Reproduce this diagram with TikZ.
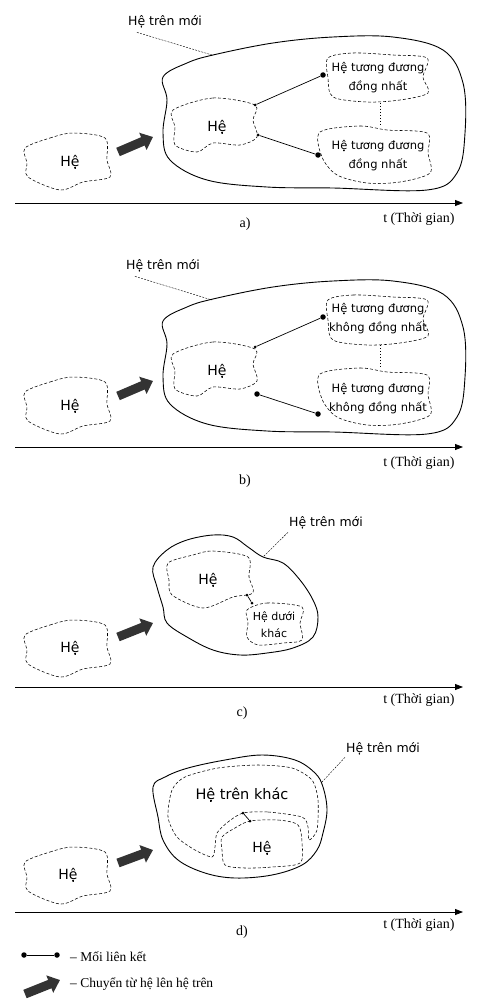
\documentclass[tikz,border=0pt]{standalone}
\usepackage{fontspec}
\setmainfont{Liberation Serif}
\newfontfamily\blobfont{DejaVu Sans}
\usetikzlibrary{arrows.meta}

\begin{document}
\begin{tikzpicture}[
		x = 1pt, y = -1pt, % pixel grid, y downwards
		blob/.style = {draw, dash pattern=on 3pt off 2pt, line width=0.55pt}, % dashed system border
		outer/.style = {draw, line width=0.9pt}, % new super system
		lbl/.style = {font=\blobfont\fontsize{11.5}{19}\selectfont, align=center, inner sep=1pt},
		big/.style = {font=\blobfont\fontsize{14}{16}\selectfont},
		dot/.style = {circle, fill, inner sep=0pt, minimum size=3pt},
		bigdot/.style = {circle, fill, inner sep=0pt, minimum size=5.5pt},
		move/.style = {line width=9pt, draw=black!80, -{Triangle[width=18pt,length=11pt]}},
		timeline/.style = {line width=0.8pt, -{Triangle[width=6pt,length=8pt]}},
		leader/.style = {dash pattern=on 2pt off 1.2pt, line width=0.4pt},
		serif/.style = {font=\fontsize{14}{16}\selectfont},
		legend/.style = {font=\fontsize{13.5}{16}\selectfont, anchor=west, inner sep=0pt},
	]
	\fill[white] (0,0) rectangle (483,1006);
	\useasboundingbox (0,0) rectangle (483,1006);

	% ---------- a) ----------
	\draw[blob] plot[smooth cycle, tension=0.5] coordinates {(25,148) (50,138) (73,133) (105,138) (107,160) (110,177) (83,182) (60,190) (28,177) (27,163)};
	\node[lbl, big] (la) at (70,162) {Hệ};
	\coordinate (ma1) at (118,152);
	\coordinate (ma2) at (153,137);
	\draw[move] (ma1) -- (ma2);
	\draw[outer] plot[smooth cycle, tension=0.6] coordinates {(213,55) (273,43) (333,37) (393,37) (443,50) (463,83) (465,133) (457,173) (427,190) (333,188) (267,187) (207,180) (170,160) (163,133) (167,100) (163,77) (187,63)};
	\node[lbl, font=\blobfont\fontsize{12.5}{15}\selectfont] (sa) at (165,22) {Hệ trên mới};
	\coordinate (oa) at (212,55);
	\draw[leader] ([xshift=10pt,yshift=-3pt]sa.south west) -- (oa);
	\draw[blob] plot[smooth cycle, tension=0.5] coordinates {(173,110) (213,98) (255,105) (253,120) (257,137) (240,145) (213,143) (197,152) (175,145) (175,127)};
	\node[lbl, big] (ha) at (217,127) {Hệ};
	\draw[blob] plot[smooth cycle, tension=0.5] coordinates {(328,58) (353,53) (393,55) (427,58) (423,77) (428,93) (400,100) (367,102) (333,97) (328,78)};
	\node[lbl] (ta) at (378,78) {Hệ tương đương\\đồng nhất};
	\draw[blob] plot[smooth cycle, tension=0.5] coordinates {(320,132) (360,126) (387,130) (427,133) (428,153) (430,173) (400,182) (367,183) (337,175) (322,157)};
	\node[lbl] (ba) at (378,156) {Hệ tương đương\\đồng nhất};
	\node[dot] (a1) at (255,105) {};
	\node[dot] (a2) at (258,135) {};
	\node[bigdot] (a3) at (323,75) {};
	\node[bigdot] (a4) at (318,155) {};
	\draw[line width=0.7pt] (a1) -- (a3);
	\draw[line width=0.7pt] (a2) -- (a4);
	\draw[line width=1pt, dotted] (380,103) -- (380,125);
	\coordinate (ta0) at (15,203);
	\coordinate (ta1) at (463,203);
	\draw[timeline] (ta0) -- (ta1);
	\node[serif, anchor=east] at (458,219) {t (Thời gian)};
	\node[serif] at (245,224) {a)};

	% ---------- b) ----------
	\begin{scope}[shift={(0,244)}]
	\draw[blob] plot[smooth cycle, tension=0.5] coordinates {(25,148) (50,138) (73,133) (105,138) (107,160) (110,177) (83,182) (60,190) (28,177) (27,163)};
	\node[lbl, big] (lb) at (70,162) {Hệ};
	\coordinate (mb1) at (118,152);
	\coordinate (mb2) at (153,137);
	\draw[move] (mb1) -- (mb2);
	\draw[outer] plot[smooth cycle, tension=0.6] coordinates {(213,55) (273,43) (333,37) (393,37) (443,50) (463,83) (465,133) (457,173) (427,190) (333,188) (267,187) (207,180) (170,160) (163,133) (167,100) (163,77) (187,63)};
	\node[lbl, font=\blobfont\fontsize{12.5}{15}\selectfont] (sb) at (163,22) {Hệ trên mới};
	\coordinate (ob) at (212,56);
	\draw[leader] ([xshift=10pt,yshift=-3pt]sb.south west) -- (ob);
	\draw[blob] plot[smooth cycle, tension=0.5] coordinates {(173,110) (213,98) (255,105) (253,120) (257,137) (240,145) (213,143) (197,152) (175,145) (175,127)};
	\node[lbl, big] (hb) at (217,127) {Hệ};
	\draw[blob] plot[smooth cycle, tension=0.5] coordinates {(328,56) (353,51) (393,53) (427,56) (423,75) (428,92) (400,99) (367,101) (333,96) (328,76)};
	\node[lbl] (tb) at (378,75) {Hệ tương đương\\không đồng nhất};
	\draw[blob] plot[smooth cycle, tension=0.5] coordinates {(320,130) (360,124) (387,128) (427,131) (428,151) (430,171) (400,180) (367,181) (337,173) (322,155)};
	\node[lbl] (bb) at (378,155) {Hệ tương đương\\không đồng nhất};
	\node[dot] (b1) at (255,103) {};
	\node[bigdot] (b2) at (257,150) {};
	\node[bigdot] (b3) at (323,73) {};
	\node[bigdot] (b4) at (318,170) {};
	\draw[line width=0.7pt] (b1) -- (b3);
	\draw[line width=0.7pt] (b2) -- (b4);
	\draw[line width=1pt, dotted] (380,101) -- (380,123);
	\coordinate (tb0) at (15,203);
	\coordinate (tb1) at (463,203);
	\draw[timeline] (tb0) -- (tb1);
	\node[serif, anchor=east] at (458,219) {t (Thời gian)};
	\end{scope}
	\node[serif] at (245,481) {b)};

	% ---------- c) ----------
	\draw[blob] plot[smooth cycle, tension=0.5] coordinates {(25,635) (50,625) (73,620) (105,625) (107,647) (110,664) (83,669) (60,677) (28,664) (27,650)};
	\node[lbl, big] (lc) at (70,648) {Hệ};
	\coordinate (mc1) at (118,637);
	\coordinate (mc2) at (153,623);
	\draw[move] (mc1) -- (mc2);
	\draw[outer] plot[smooth cycle, tension=0.6] coordinates {(153,567) (167,550) (187,540) (213,535) (233,537) (248,547) (263,557) (283,563) (300,580) (313,600) (318,617) (313,637) (293,648) (267,653) (240,655) (213,650) (187,637) (167,623) (163,607) (157,587)};
	\node[lbl, font=\blobfont\fontsize{12.5}{15}\selectfont] (sc) at (326,523) {Hệ trên mới};
	\coordinate (oc) at (263,557);
	\draw[leader] ([yshift=-2pt]sc.south west) -- (oc);
	\draw[blob] plot[smooth cycle, tension=0.5] coordinates {(168,563) (193,555) (213,551) (248,557) (249,577) (253,593) (233,597) (203,608) (172,595) (169,580)};
	\node[lbl, big] (hc) at (208,580) {Hệ};
	\draw[blob] plot[smooth cycle, tension=0.5] coordinates {(247,610) (267,603) (302,607) (300,623) (302,640) (283,643) (258,645) (247,637) (248,623)};
	\node[lbl, font=\blobfont\fontsize{11}{17}\selectfont] (uc) at (274,625) {Hệ dưới\\khác};
	\node[dot] (c1) at (247,595) {};
	\node[dot] (c2) at (252,603) {};
	\draw[line width=0.7pt] (c1) -- (c2);
	\coordinate (tc0) at (15,687);
	\coordinate (tc1) at (463,687);
	\draw[timeline] (tc0) -- (tc1);
	\node[serif, anchor=east] at (458,700) {t (Thời gian)};
	\node[serif] at (242,713) {c)};

	% ---------- d) ----------
	\draw[blob] plot[smooth cycle, tension=0.5] coordinates {(25,862) (50,852) (73,847) (105,852) (107,874) (110,891) (83,896) (60,904) (28,891) (27,877)};
	\node[lbl, big] (ld) at (68,875) {Hệ};
	\coordinate (md1) at (118,863);
	\coordinate (md2) at (153,850);
	\draw[move] (md1) -- (md2);
	\draw[outer] plot[smooth cycle, tension=0.6] coordinates {(153,787) (165,777) (188,768) (225,760) (262,755) (295,760) (315,773) (323,787) (327,810) (323,833) (317,850) (302,865) (272,875) (235,878) (205,873) (178,860) (163,840) (158,817)};
	\node[lbl, font=\blobfont\fontsize{12.5}{15}\selectfont] (sd) at (383,749) {Hệ trên mới};
	\coordinate (od) at (322,782);
	\draw[leader] ([yshift=-1pt]sd.south west) -- (od);
	\draw[blob] plot[smooth cycle, tension=0.45] coordinates {(243,813) (268,812) (302,817) (308,827) (309,840) (317,830) (318,800) (312,780) (292,768) (258,765) (218,768) (185,777) (172,790) (168,817) (177,837) (195,850) (212,857) (215,847) (217,833) (228,822)};
	\node[lbl, font=\blobfont\fontsize{14.5}{17}\selectfont] (kd) at (242,795) {Hệ trên khác};
	\draw[blob] plot[smooth cycle, tension=0.5] coordinates {(250,821) (278,820) (298,825) (302,843) (300,863) (272,867) (245,868) (225,865) (222,850) (222,837) (235,828)};
	\node[lbl, big] (hd) at (262,848) {Hệ};
	\node[dot] (d1) at (243,813) {};
	\node[dot] (d2) at (250,821) {};
	\draw[line width=0.7pt] (d1) -- (d2);
	\coordinate (td0) at (15,912);
	\coordinate (td1) at (463,912);
	\draw[timeline] (td0) -- (td1);
	\node[serif, anchor=east] at (458,925) {t (Thời gian)};
	\node[serif] at (242,932) {d)};

	% ---------- legend ----------
	\node[bigdot] (k1) at (24,955) {};
	\node[bigdot] (k2) at (57,955) {};
	\draw[line width=0.7pt] (k1) -- (k2);
	\node[legend] (kt1) at (70,957) {– Mối liên kết};
	\coordinate (km1) at (25,994);
	\coordinate (km2) at (60,980);
	\draw[move] (km1) -- (km2);
	\node[legend] (kt2) at (70,984) {– Chuyển từ hệ lên hệ trên};
\end{tikzpicture}
\end{document}
